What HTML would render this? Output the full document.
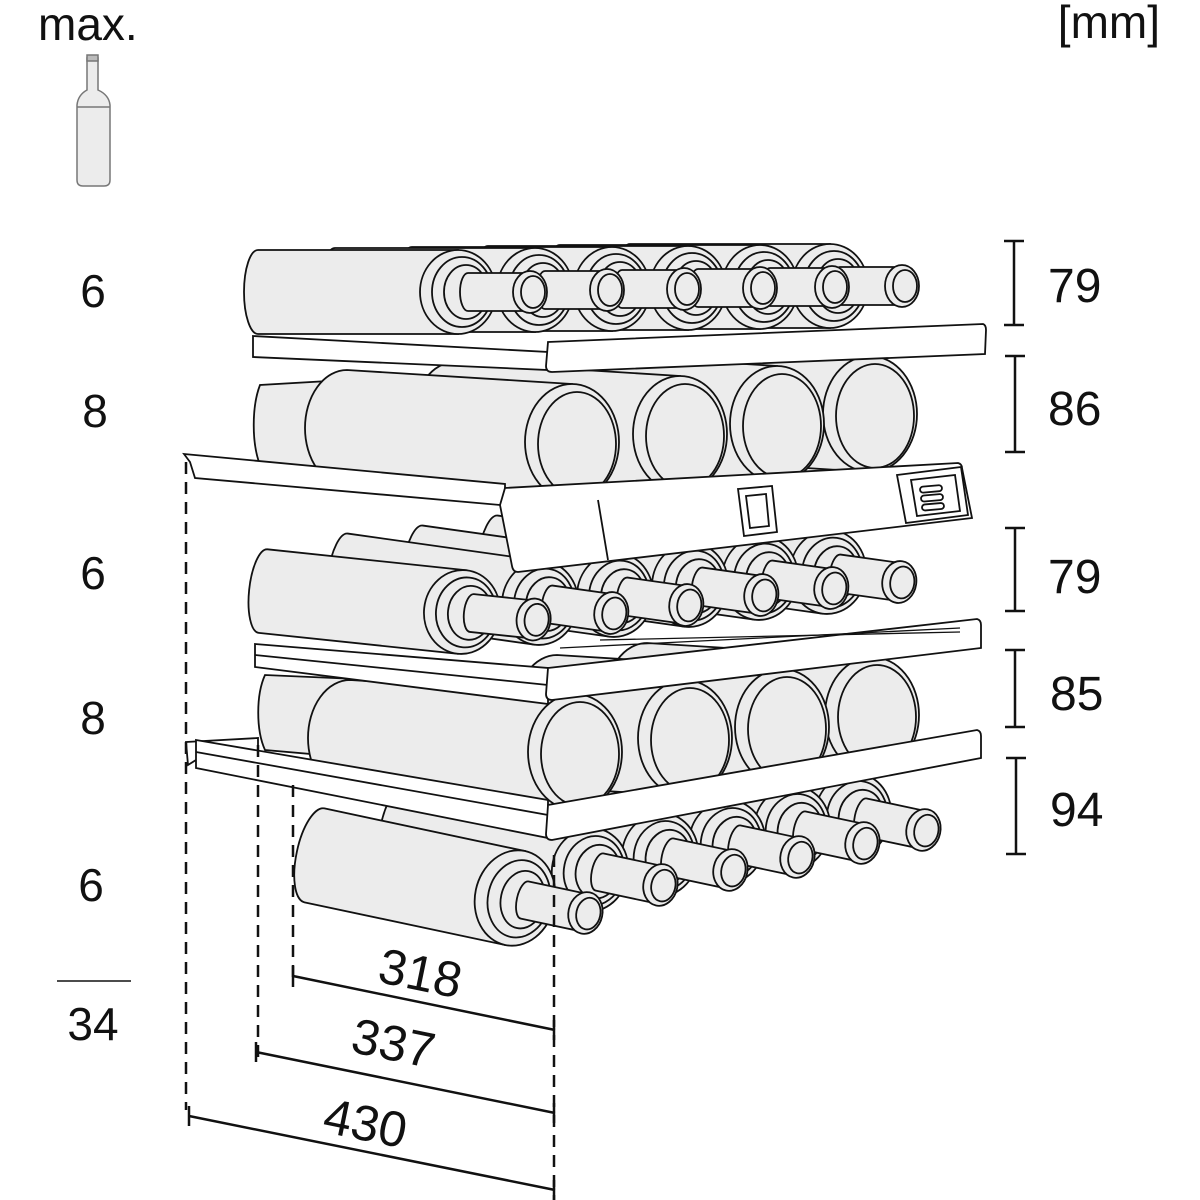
<!DOCTYPE html>
<html><head><meta charset="utf-8"><style>
html,body{margin:0;padding:0;background:#fff}
svg{display:block}
text{font-family:"Liberation Sans","DejaVu Sans",sans-serif;fill:#111}
</style></head><body>
<svg width="1200" height="1200" viewBox="0 0 1200 1200" xmlns="http://www.w3.org/2000/svg">
<defs>
<g id="sb" stroke="#111" stroke-width="1.8" fill="#ececec">
  <path d="M0,-42 L-200,-42 A14,42 0 0 0 -200,42 L0,42 Z"/>
  <ellipse cx="0" cy="0" rx="38" ry="42"/>
  <ellipse cx="4" cy="0" rx="30" ry="35"/>
  <ellipse cx="8" cy="0" rx="22" ry="27"/>
  <path d="M10,-19 L72,-19 L72,19 L10,19 A8,19 0 0 1 10,-19 Z"/>
  <ellipse cx="72" cy="0" rx="17" ry="21"/>
  <ellipse cx="75" cy="0" rx="12" ry="16"/>
</g>
<g id="fb" stroke="#111" stroke-width="1.8" fill="#ececec">
  <path d="M0,-58 L-225,-72 A42,58 0 0 0 -225,44 L0,58 Z"/>
  <ellipse cx="0" cy="0" rx="47" ry="58"/>
  <ellipse cx="5" cy="2" rx="39" ry="52"/>
</g>
</defs>

<!-- header -->
<text x="38" y="40" font-size="46">max.</text>
<text x="1160" y="38" font-size="46" text-anchor="end">[mm]</text>
<g stroke="#777" stroke-width="1.5" fill="#ececec">
  <path d="M87,58 L98,58 L98,90 Q109,95 110,105 L110,180 Q110,186 104,186 L83,186 Q77,186 77,180 L77,105 Q78,95 87,90 Z"/>
  <line x1="77" y1="107" x2="110" y2="107"/>
  <rect x="87" y="55" width="11" height="6" fill="#bbb"/>
</g>

<!-- left counts -->
<g font-size="46" text-anchor="middle">
<text x="93" y="307">6</text>
<text x="95" y="427">8</text>
<text x="93" y="589">6</text>
<text x="93" y="734">8</text>
<text x="91" y="901">6</text>
<text x="93" y="1040">34</text>
</g>
<line x1="57" y1="981" x2="131" y2="981" stroke="#111" stroke-width="1.5"/>

<!-- right dims -->
<g stroke="#111" stroke-width="2.5">
<line x1="1014" y1="241" x2="1014" y2="325"/><line x1="1004" y1="241" x2="1024" y2="241"/><line x1="1004" y1="325" x2="1024" y2="325"/>
<line x1="1015" y1="356" x2="1015" y2="452"/><line x1="1005" y1="356" x2="1025" y2="356"/><line x1="1005" y1="452" x2="1025" y2="452"/>
<line x1="1015" y1="528" x2="1015" y2="611"/><line x1="1005" y1="528" x2="1025" y2="528"/><line x1="1005" y1="611" x2="1025" y2="611"/>
<line x1="1015" y1="650" x2="1015" y2="727"/><line x1="1005" y1="650" x2="1025" y2="650"/><line x1="1005" y1="727" x2="1025" y2="727"/>
<line x1="1016" y1="758" x2="1016" y2="854"/><line x1="1006" y1="758" x2="1026" y2="758"/><line x1="1006" y1="854" x2="1026" y2="854"/>
</g>
<g font-size="48">
<text x="1048" y="302">79</text>
<text x="1048" y="425">86</text>
<text x="1048" y="593">79</text>
<text x="1050" y="710">85</text>
<text x="1050" y="826">94</text>
</g>

<!-- row 5 (lowest, drawn first) -->
<use href="#sb" transform="translate(853,815) rotate(12)"/>
<use href="#sb" transform="translate(792,828) rotate(12)"/>
<use href="#sb" transform="translate(727,842) rotate(12)"/>
<use href="#sb" transform="translate(660,855) rotate(12)"/>
<use href="#sb" transform="translate(590,870) rotate(12)"/>
<g transform="translate(515,898) rotate(12)" stroke="#111" stroke-width="1.8" fill="#ececec">
  <path d="M0,-48 L-205,-48 A18,48 0 0 0 -205,48 L0,48 Z"/>
  <ellipse cx="0" cy="0" rx="40" ry="48"/>
  <ellipse cx="4" cy="0" rx="31" ry="39"/>
  <ellipse cx="8" cy="0" rx="22" ry="29"/>
  <path d="M10,-19 L72,-19 L72,19 L10,19 A8,19 0 0 1 10,-19 Z"/>
  <ellipse cx="72" cy="0" rx="17" ry="21"/>
  <ellipse cx="75" cy="0" rx="12" ry="16"/>
</g>

<!-- row 4 -->
<g stroke="#111" stroke-width="1.8" fill="#ececec">
<path d="M380,680 L265,675 A20,50 0 0 0 265,750 L380,760 Z"/>
<rect x="318" y="710" width="60" height="30" rx="8"/>
</g>
<use href="#fb" x="872" y="715"/>
<use href="#fb" x="782" y="727"/>
<use href="#fb" x="685" y="738"/>
<use href="#fb" x="575" y="752"/>
<g stroke="#111" stroke-width="1.8" fill="#fff">
<path d="M186,742 L258,738 L258,752 L196,760 L188,765 Z"/>
<path d="M196,740 L548,800 L548,838 L196,768 Z"/>
<line x1="196" y1="752" x2="548" y2="815"/>
<path d="M548,805 L977,730 Q981,731 981,736 L981,758 L552,840 Q546,840 546,834 Z"/>
</g>

<!-- row 3 -->
<use href="#sb" transform="translate(828,572) rotate(8)"/>
<use href="#sb" transform="translate(760,578) rotate(8)"/>
<use href="#sb" transform="translate(690,585) rotate(8)"/>
<use href="#sb" transform="translate(615,595) rotate(8)"/>
<use href="#sb" transform="translate(540,603) rotate(8)"/>
<use href="#sb" transform="translate(462,612) rotate(6)"/>
<g stroke="#111" stroke-width="1.8" fill="#fff">
<path d="M255,644 L548,668 L548,704 L255,667 Z"/>
<line x1="255" y1="655" x2="548" y2="685"/>
<path d="M548,668 L977,619 Q981,620 981,625 L981,648 L552,700 Q546,700 546,694 Z"/>
</g>
<g stroke="#111" stroke-width="1.3" fill="none">
<line x1="560" y1="648" x2="960" y2="628"/>
<line x1="600" y1="640" x2="960" y2="632"/>
</g>

<!-- row 2 -->
<g stroke="#111" stroke-width="1.8" fill="#ececec">
<path d="M380,378 L260,385 A20,55 0 0 0 260,465 L380,470 Z"/>
<rect x="315" y="407" width="60" height="30" rx="8"/>
</g>
<use href="#fb" x="870" y="414"/>
<use href="#fb" x="777" y="424"/>
<use href="#fb" x="680" y="434"/>
<use href="#fb" x="572" y="442"/>
<!-- shelf 2 + control panel -->
<g stroke="#111" stroke-width="1.8" fill="#fff">
<path d="M184,454 L505,484 L505,500 L500,505 L195,478 L190,462 Z"/>
<path d="M505,488 L958,463 Q962,464 962,468 L972,518 L518,572 Q513,572 512,566 L500,505 Z"/>
<line x1="598" y1="500" x2="608" y2="560"/>
<path d="M738,489 L772,486 L777,532 L744,536 Z"/>
<path d="M746,496 L766,494 L769,526 L750,528 Z"/>
<path d="M897,475 L961,467 L968,515 L906,523 Z"/>
<path d="M911,480 L955,475 L960,511 L917,516 Z"/>
<rect x="920" y="486" width="22" height="6" rx="3" transform="rotate(-5 930 489)"/>
<rect x="921" y="495" width="22" height="6" rx="3" transform="rotate(-5 930 498)"/>
<rect x="922" y="504" width="22" height="6" rx="3" transform="rotate(-5 930 507)"/>
</g>

<!-- row 1 -->
<use href="#sb" x="830" y="286"/>
<use href="#sb" x="760" y="287"/>
<use href="#sb" x="688" y="288"/>
<use href="#sb" x="612" y="289"/>
<use href="#sb" x="535" y="290"/>
<use href="#sb" x="458" y="292"/>
<g stroke="#111" stroke-width="1.8" fill="#fff">
<path d="M253,336 L548,352 L548,370 L253,357 Z"/>
<path d="M548,342 L983,324 Q986,325 986,330 L985,354 L552,372 Q546,372 546,366 Z"/>
</g>

<!-- dashed extension lines -->
<g stroke="#111" stroke-width="2.5" stroke-dasharray="12,8" fill="none">
<line x1="186" y1="462" x2="186" y2="1110"/>
<line x1="258" y1="745" x2="258" y2="1060"/>
<line x1="293" y1="785" x2="293" y2="985"/>
<line x1="554" y1="855" x2="554" y2="1200"/>
</g>
<!-- dim lines -->
<g stroke="#111" stroke-width="2.5">
<line x1="293" y1="976" x2="555" y2="1030"/><line x1="293" y1="966" x2="293" y2="987"/><line x1="554" y1="1020" x2="554" y2="1040"/>
<line x1="256" y1="1052" x2="555" y2="1113"/><line x1="256" y1="1042" x2="256" y2="1062"/><line x1="554" y1="1103" x2="554" y2="1123"/>
<line x1="189" y1="1116" x2="555" y2="1190"/><line x1="189" y1="1106" x2="189" y2="1126"/><line x1="554" y1="1180" x2="554" y2="1200"/>
</g>
<g font-size="50" text-anchor="middle">
<text transform="translate(417,990) rotate(11.6)">318</text>
<text transform="translate(390,1060) rotate(11.6)">337</text>
<text transform="translate(362,1140) rotate(11.6)">430</text>
</g>
</svg>
</body></html>
